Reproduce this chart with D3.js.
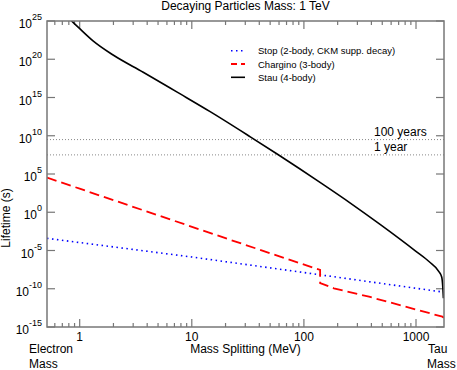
<!DOCTYPE html>
<html lang="en">
<head>
    <meta charset="UTF-8">
    <title>Decaying Particles Mass: 1 TeV</title>
    <script src="https://d3js.org/d3.v7.min.js"></script>
    <style>
        body { margin: 0; background: #fff; }
        text { font-family: "Liberation Sans", Arial, sans-serif; fill: #000; }
    </style>
</head>
<body>
    <script type="text/javascript">
        var width = 457, height = 370;
        var margin = {top: 21, right: 13, bottom: 43, left: 47};

        // mass splitting in MeV, lifetime as log10(seconds)
        var stopMass = [0.511, 10, 100, 1777];
        var stopLife = [-3.41, -5.85, -7.88, -10.45];

        var charginoMass = [0.511, 1, 22, 139.5, 139.6, 150, 185, 381, 1717, 1777];
        var charginoLife = [4.52, 3.08, -3.6, -7.55, -9.25, -9.42, -9.94, -11.04, -13.65, -13.8];

        var stauMass = [0.80, 0.843, 1.0, 1.315, 1.987, 3.687, 7.34, 14.58, 33.25, 57.7, 144.7, 261.4, 485, 992, 1305, 1600, 1695, 1730, 1755];
        var stauLife = [25.39, 25.05, 24.0, 22.4, 20.55, 18.3, 15.73, 13.15, 9.86, 7.61, 3.74, 1.17, -1.65, -5.07, -6.44, -7.75, -8.46, -9.6, -11.25];

        var xTicks = [1, 10, 100, 1000];
        var yTicks = [-15, -10, -5, 0, 5, 10, 15, 20, 25];
        var refLines = [{label: "100 years", value: 3.156e9}, {label: "1 year", value: 3.156e7}];

        var seriesNames = ["Stop (2-body, CKM supp. decay)", "Chargino (3-body)", "Stau (4-body)"];

        var x = d3.scaleLog().domain([0.511, 1777]).range([margin.left, width - margin.right]);
        var y = d3.scaleLog().domain([1e-15, 1e25]).range([height - margin.bottom, margin.top]);

        var svg = d3.select("body").append("svg")
            .attr("width", width)
            .attr("height", height);

        svg.append("clipPath").attr("id", "plotclip")
            .append("rect")
            .attr("x", margin.left).attr("y", margin.top)
            .attr("width", width - margin.left - margin.right)
            .attr("height", height - margin.top - margin.bottom);

        var x0 = margin.left, x1 = width - margin.right;
        var y0 = margin.top, y1 = height - margin.bottom;

        // minor ticks on the x axis
        var minorX = [];
        [0.1, 1, 10, 100].forEach(function(d){
            for (var k = 2; k <= 9; k++) {
                var v = d * k;
                if (v > 0.511 && v < 1777) minorX.push(v);
            }
        });

        var tickColor = "#777";
        var ticks = svg.append("g").attr("stroke", tickColor).attr("stroke-width", 1.2);
        minorX.forEach(function(v){
            ticks.append("line").attr("x1", x(v)).attr("x2", x(v)).attr("y1", y1).attr("y2", y1 - 4);
            ticks.append("line").attr("x1", x(v)).attr("x2", x(v)).attr("y1", y0).attr("y2", y0 + 4);
        });
        xTicks.forEach(function(v){
            ticks.append("line").attr("x1", x(v)).attr("x2", x(v)).attr("y1", y1).attr("y2", y1 - 8);
            ticks.append("line").attr("x1", x(v)).attr("x2", x(v)).attr("y1", y0).attr("y2", y0 + 8);
        });
        yTicks.forEach(function(e){
            var yy = y(Math.pow(10, e));
            ticks.append("line").attr("x1", x0).attr("x2", x0 + 8).attr("y1", yy).attr("y2", yy);
            ticks.append("line").attr("x1", x1).attr("x2", x1 - 8).attr("y1", yy).attr("y2", yy);
        });

        // reference lines
        refLines.forEach(function(r){
            svg.append("line")
                .attr("x1", x0).attr("x2", x1)
                .attr("y1", y(r.value)).attr("y2", y(r.value))
                .attr("stroke", "#888").attr("stroke-width", 1)
                .attr("stroke-dasharray", "1,2");
            svg.append("text")
                .attr("x", 374).attr("y", y(r.value) - 4)
                .style("font-size", "12px")
                .text(r.label);
        });

        // curves
        function toPoints(ms, ls){
            return ms.map(function(m, i){ return [m, Math.pow(10, ls[i])]; });
        }
        var line = d3.line()
            .x(function(d){ return x(d[0]); })
            .y(function(d){ return y(d[1]); })
            .curve(d3.curveMonotoneX);
        var linePlain = d3.line()
            .x(function(d){ return x(d[0]); })
            .y(function(d){ return y(d[1]); });

        var plot = svg.append("g").attr("clip-path", "url(#plotclip)");

        plot.append("path")
            .attr("d", linePlain(toPoints(stopMass, stopLife)))
            .attr("fill", "none").attr("stroke", "#0000ff")
            .attr("stroke-width", 1.6).attr("stroke-dasharray", "1.5,3.5");

        plot.append("path")
            .attr("d", linePlain(toPoints(charginoMass, charginoLife)))
            .attr("fill", "none").attr("stroke", "#ff0000")
            .attr("stroke-width", 1.8).attr("stroke-dasharray", "10,5");

        plot.append("path")
            .attr("d", line(toPoints(stauMass, stauLife)))
            .attr("fill", "none").attr("stroke", "#000")
            .attr("stroke-width", 1.6);

        // frame
        svg.append("rect")
            .attr("x", x0).attr("y", y0)
            .attr("width", x1 - x0).attr("height", y1 - y0)
            .attr("fill", "none").attr("stroke", tickColor).attr("stroke-width", 1.5);

        // x tick labels
        svg.selectAll(".xlab").data(xTicks).enter().append("text")
            .attr("x", function(d){ return x(d); })
            .attr("y", 341)
            .attr("text-anchor", "middle")
            .style("font-size", "12px")
            .text(function(d){ return d; });

        // y tick labels
        yTicks.forEach(function(e){
            var yy = y(Math.pow(10, e));
            var t = svg.append("text")
                .attr("x", 42).attr("y", yy + 7)
                .attr("text-anchor", "end")
                .style("font-size", "12px");
            t.append("tspan").text("10");
            t.append("tspan").attr("dy", -8).style("font-size", "9px").text(e);
        });

        // legend
        var legendStyles = [
            {color: "#0000ff", dash: "1.5,3.5", w: 1.6},
            {color: "#ff0000", dash: "6,4", w: 1.8},
            {color: "#000", dash: null, w: 1.6}
        ];
        seriesNames.forEach(function(name, i){
            var ly = 50.7 + i * 13.3;
            svg.append("line")
                .attr("x1", 231).attr("x2", 245).attr("y1", ly).attr("y2", ly)
                .attr("stroke", legendStyles[i].color)
                .attr("stroke-width", legendStyles[i].w)
                .attr("stroke-dasharray", legendStyles[i].dash);
            svg.append("text")
                .attr("x", 258).attr("y", ly + 3.5)
                .style("font-size", "9.5px")
                .text(name);
        });

        // titles
        svg.append("text")
            .attr("x", (x0 + x1) / 2).attr("y", 10)
            .attr("text-anchor", "middle")
            .style("font-size", "12px")
            .text("Decaying Particles Mass: 1 TeV");

        svg.append("text")
            .attr("x", (x0 + x1) / 2).attr("y", 353)
            .attr("text-anchor", "middle")
            .style("font-size", "12px")
            .text("Mass Splitting (MeV)");

        svg.append("text")
            .attr("transform", "translate(10," + 218 + ") rotate(-90)")
            .attr("text-anchor", "middle")
            .style("font-size", "12px")
            .text("Lifetime (s)");

        svg.append("text").attr("x", 29).attr("y", 353).style("font-size", "12px").text("Electron");
        svg.append("text").attr("x", 29).attr("y", 368).style("font-size", "12px").text("Mass");
        svg.append("text").attr("x", 428).attr("y", 353).style("font-size", "12px").text("Tau");
        svg.append("text").attr("x", 427).attr("y", 368).style("font-size", "12px").text("Mass");
    </script>
</body>
</html>
